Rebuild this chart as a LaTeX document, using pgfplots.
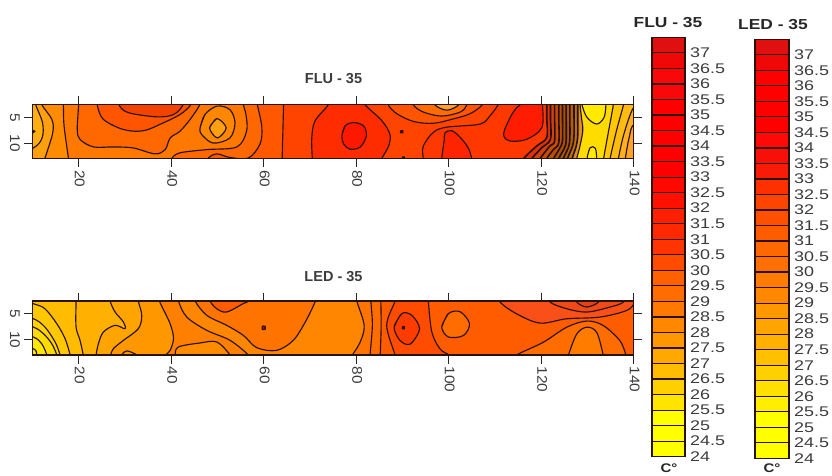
\documentclass[border=0pt]{standalone}
\usepackage{fontspec}
\usepackage{pgfplots}
\pgfplotsset{compat=1.18}
\setmainfont{Liberation Sans}
\newfontfamily\lgd[FakeStretch=1.28]{Liberation Sans}
\newfontfamily\tk[FakeStretch=1.1]{Liberation Sans}
\newfontfamily\hd[FakeStretch=1.2]{Liberation Sans}
\definecolor{cline}{HTML}{2A1208}
\definecolor{ctxt}{HTML}{3C3C3C}
\tikzset{hex/.code={\definecolor{tmp#1}{HTML}{#1}\tikzset{fill=tmp#1}}}
\pgfplotsset{
  region/.style={draw=cline,line width=1.15pt,smooth,tension=0.55},
  dense/.style={draw=cline!90!black,line width=1.6pt,smooth,tension=0.55},
  strip/.style={scale only axis,width=601.3pt,height=54pt,
    xmin=10,xmax=140,ymin=2.5,ymax=13,y dir=reverse,
    xtick={20,40,60,80,100,120,140},ytick={5,10},
    tick align=outside,tick pos=both,major tick length=8.5pt,
    xticklabel pos=bottom,yticklabel pos=left,
    axis on top,
    tick style={color=black!85,line width=1pt},
    axis line style={color=cline,line width=1.4pt},
    xticklabel style={rotate=-90,anchor=west,text=ctxt,inner sep=0pt,xshift=3pt,yshift=1pt,
       font=\tk\fontsize{14}{14}\selectfont,/pgf/number format/assume math mode=true},
    yticklabel style={rotate=-90,anchor=center,text=ctxt,inner sep=0pt,yshift=-9pt,
       font=\tk\fontsize{14}{14}\selectfont,/pgf/number format/assume math mode=true}},
  bar/.style={scale only axis,xmin=0,xmax=1,ymin=24,ymax=37.5,xtick=\empty,
    ytick={24,24.5,25,25.5,26,26.5,27,27.5,28,28.5,29,29.5,30,30.5,31,31.5,32,32.5,33,33.5,34,34.5,35,35.5,36,36.5,37},
    yticklabels={24,24.5,25,25.5,26,26.5,27,27.5,28,28.5,29,29.5,30,30.5,31,31.5,32,32.5,33,33.5,34,34.5,35,35.5,36,36.5,37},
    yticklabel pos=right,major tick length=0pt,axis on top,
    axis line style={color=cline,line width=1.2pt},
    yticklabel style={text=ctxt,anchor=west,inner sep=0pt,xshift=5pt,font=\lgd\fontsize{14}{14}\selectfont}}
}
\newcommand\R[2]{\addplot[region,hex=#1] coordinates {#2};}
\newcommand\D[2]{\addplot[dense,hex=#1] coordinates {#2};}
\newcommand\B[1]{\addplot[hex=#1,draw=none,sharp plot] coordinates {(5,1)(145,1)(145,14)(5,14)(5,1)};}
\newcommand\C[3]{\addplot[hex=#1,draw=cline,line width=1.2pt,sharp plot] coordinates {(0,#2)(1,#2)(1,#3)(0,#3)(0,#2)};}
\begin{document}
\begin{tikzpicture}[x=1pt,y=1pt]
\useasboundingbox (0,0) rectangle (832,475);

% ---------- FLU strip
\begin{axis}[strip,at={(32.4pt,316.5pt)},anchor=south west]
\B{FF7800}
\R{FF8C00}{(5,1)(16.7,1)(16.7,2.5)(16.85,6.7)(17.8,13)(17.9,14)(5,14)}
\R{FFA010}{(5,1)(12,1)(12,2.5)(14.2,5.4)(14.4,8)(12.7,13)(12.5,14)(5,14)}
\R{FFB010}{(5,1)(10.7,1)(10.7,2.5)(12.2,6.07)(12.1,9)(10.2,10.95)(5,12.5)}
\R{2A1208}{(9.9,7.5)(10.5,7.7)(9.9,8.1)(9.9,7.5)}
\R{FF6800}{(20,1)(20,2.5)(19.7,7.37)(20.3,9.3)(23.2,10.75)(27.5,10.75)(31.8,10.95)(36.5,12.1)(38.7,11.27)(39.8,9)(41.9,7.7)(44.1,5.4)(46.1,2.68)(46.3,1)}
\R{FF5400}{(24.05,1)(24.05,2.7)(25.35,5.4)(29.7,7.37)(34,7.6)(38.3,6.07)(41.9,4.45)(44.1,2.7)(44.3,1)}
\R{F04400}{(28.8,1)(28.8,2.7)(30.8,4.1)(36.9,4.9)(40.5,4.45)(42.5,2.7)(42.7,1)}
\R{FF8800}{(46.25,7.05)(47.3,4.45)(49.9,2.82)(52.7,3.5)(53.8,6.07)(52.7,9)(49.1,10)(46.6,8.34)(46.25,7.05)(47.3,4.45)}
\R{FFA010}{(48.3,7.05)(49.9,5.23)(51.9,7.05)(50,9)(48.3,7.05)(49.9,5.23)}
\R{FF6800}{(40.1,14)(40.1,13)(41.9,11.9)(47.7,11.27)(54.2,10.75)(56.3,7.7)(56.2,4.6)(55.6,2.5)(55.6,1)(145,1)(145,14)}
\R{FF5800}{(48.05,14)(48.05,12.9)(49.9,12.1)(52.7,12.8)(56.7,12.9)(59.2,10.2)(59.6,6.9)(58.65,2.5)(58.65,1)(145,1)(145,14)}
\R{FF4400}{(64,14)(64,13)(64.3,2.5)(64.3,1)(145,1)(145,14)}
\R{FF2C00}{(74,1)(74,2.5)(71.1,5.7)(70.4,9)(70.5,13)(70.5,14)(85.55,14)(85.55,13)(87,10.6)(87.3,8.3)(85.5,5.6)(81.9,2.5)(81.9,1)}
\R{FF1800}{(76.9,8.6)(77.6,6.66)(79.4,6)(81.6,6.66)(82.2,8.6)(80.9,10.75)(78.7,11.2)(77.3,10.2)(76.9,8.6)(77.6,6.66)}
\R{2A1208}{(89.6,7.6)(90.1,7.6)(90.1,8)(89.6,8)(89.6,7.6)}
\R{2A1208}{(90,12.7)(90.4,12.7)(90.4,13.2)(90,13.2)(90,12.7)}
\R{FF3800}{(94.5,14)(94.5,13)(94.5,10.6)(96.7,7.9)(99.6,6.9)(106.8,6.3)(109,4.6)(110.7,2.5)(111,1)(145,1)(145,14)}
\R{FF5400}{(86.96,1)(86.96,2.6)(88.8,4.3)(92.4,5.8)(96.7,6.15)(101,5.3)(104.6,4.3)(107.2,2.6)(107.2,1)}
\R{FF6C00}{(92.4,1)(92.4,2.6)(94.5,3.96)(98.5,4.75)(102.5,3.96)(103.9,2.6)(103.9,1)}
\R{FFA030}{(97.05,1)(97.05,2.6)(99.6,3.6)(102.1,2.6)(102.1,1)}
\R{FF2400}{(98.5,14)(98.5,12.9)(99,9.6)(99.2,8)(100.7,7.6)(102.5,8.9)(104.2,10.9)(104.95,12.9)(104.95,14)}
\R{FF1C00}{(115.5,1)(115.5,2.5)(114.7,3.1)(113.3,5)(111.86,8.3)(113.3,9.6)(116.9,9.25)(120.14,7)(120.3,2.5)(120.3,1)}
\D{E03010}{(116.2,14)(116.2,13)(119.06,10.55)(121.2,8.9)(121.2,5)(121.2,2.5)(121.2,1)(145,1)(145,14)}
\D{D04010}{(118,14)(118,13)(120.14,10.9)(122,9.25)(122,5)(122,2.5)(122,1)(145,1)(145,14)}
\D{C84C08}{(119.8,14)(119.8,13)(121.9,10.55)(122.9,9.6)(122.9,5)(122.9,2.5)(122.9,1)(145,1)(145,14)}
\D{B85008}{(121.2,14)(121.2,13)(122.7,11.2)(123.8,9.9)(123.8,5)(123.8,2.5)(123.8,1)(145,1)(145,14)}
\D{A85008}{(122.7,14)(122.7,13)(124,11)(124.6,9.5)(124.6,5)(124.6,2.5)(124.6,1)(145,1)(145,14)}
\D{A85808}{(123.8,14)(123.8,13)(125,11)(125.4,9.5)(125.4,5)(125.4,2.5)(125.4,1)(145,1)(145,14)}
\D{B06008}{(124.8,14)(124.8,13)(125.9,10.8)(126.2,9)(126.2,5)(126.2,2.5)(126.2,1)(145,1)(145,14)}
\D{C07010}{(125.7,14)(125.7,13)(126.8,10.5)(127.1,8.5)(127.1,5)(127.1,2.5)(127.1,1)(145,1)(145,14)}
\D{D89030}{(126.7,14)(126.7,13)(127.6,10.5)(127.9,8.5)(127.9,5)(127.9,2.5)(127.9,1)(145,1)(145,14)}
\R{FFDC00}{(127.7,14)(127.7,13)(128.4,10.5)(129,7.5)(128.7,5)(128.4,2.5)(128.4,1)(145,1)(145,14)}
\R{FFEA00}{(128.8,1)(128.8,2.5)(129.9,5)(132,6.3)(133.6,5)(134,2.5)(134,1)}
\R{FFEA00}{(129.9,14)(129.9,13)(130.6,10.9)(131.7,11)(132,13)(132,14)}
\R{FFC800}{(133.5,14)(133.5,13)(134.6,7.5)(135.6,2.5)(135.6,1)(145,1)(145,14)}
\R{FFBC10}{(134.9,14)(134.9,13)(136.3,7.5)(137.8,2.5)(137.8,1)(145,1)(145,14)}
\R{FFB020}{(136.7,14)(136.7,13)(137.8,8.5)(139.6,3.7)(141,2.5)(145,1)(145,14)}
\R{FFA428}{(138.2,14)(138.2,13)(139,9)(140.2,6.2)(145,5)(145,14)}
\end{axis}

% ---------- LED strip
\begin{axis}[strip,at={(32.4pt,120pt)},anchor=south west]
\B{FF5C00}
\R{FF4C00}{(5,1)(95.6,1)(95.6,2.5)(96.36,8.55)(98.16,11.84)(100.1,13)(101,14)(5,14)}
\R{FF5C00}{(5,1)(88.4,1)(88.4,2.5)(86.6,7.24)(88.4,13)(88.4,14)(5,14)}
\R{FF6C00}{(5,1)(85.33,1)(85.33,2.5)(85.4,7.5)(85.2,13)(85.2,14)(5,14)}
\R{FF7400}{(5,1)(83.17,1)(83.17,2.5)(83.5,7.2)(83,13)(83,14)(5,14)}
\R{FF8600}{(5,1)(80.14,1)(80.14,2.5)(81.73,7.24)(80.86,10.5)(79.2,13)(79,14)(5,14)}
\R{FF7400}{(45.17,1)(45.17,2.5)(47.7,5.29)(52,7.23)(55.6,9.18)(58.5,11.57)(62.8,12.1)(66.4,10.15)(69,6.58)(71.1,2.7)(71.5,1)}
\R{FF5C00}{(48.4,1)(48.4,2.5)(49.86,4)(52,4.64)(55.6,3)(56.7,2.5)(56.9,1)}
\R{A01800}{(59.7,7.4)(60.3,7.4)(60.3,8)(59.7,8)(59.7,7.4)}
\R{FF8000}{(5,1)(41.57,1)(41.57,2.5)(43.37,5.61)(47.7,8.2)(52.74,10.15)(56.7,13)(57,14)(5,14)}
\R{FF8C00}{(40.85,14)(40.85,13)(41.57,11.44)(46.25,10.66)(49.86,10.47)(52.74,13)(52.9,14)}
\R{FF9800}{(5,1)(37.46,1)(37.46,2.5)(39.77,6.9)(40.5,9.82)(39.77,12.1)(38.83,13)(38.6,14)(5,14)}
\R{FFA400}{(5,1)(32.9,1)(32.9,2.5)(33.64,5.29)(32.9,7.88)(29.68,10.15)(27.5,11.77)(26.94,13)(26.8,14)(5,14)}
\R{FF9800}{(29.3,14)(29.3,13)(30.4,12.2)(32.56,13)(32.8,14)}
\R{FFB000}{(5,1)(26.8,1)(26.8,2.5)(27.87,4.64)(29.68,6.58)(30,7.88)(27.87,7.23)(25.35,8.53)(24.27,10.8)(23.77,13)(23.7,14)(5,14)}
\R{FFBC00}{(5,1)(19.44,1)(19.44,2.5)(19.44,7.55)(20.3,10.15)(21,13)(21.2,14)(5,14)}
\R{FFC800}{(5,1.5)(10.2,3.02)(12.7,4)(15.26,6.9)(17.06,9.82)(18.14,12.94)(18.3,14)(5,14)}
\R{FFD400}{(5,4.5)(10.2,5.93)(12.7,7.55)(14.9,10.47)(15.98,12.94)(16.2,14)(5,14)}
\R{FFDC00}{(5,6)(10.2,7.55)(12.38,8.85)(14.18,10.8)(15.26,12.94)(15.4,14)(5,14)}
\R{FFE800}{(5,8)(10.2,9.5)(12,10.8)(13.1,12.94)(13.2,14)(5,14)}
\R{F0EC00}{(5,10.5)(10.2,11.77)(10.94,12.94)(11,14)(5,14)}
\R{FF3C00}{(88.2,7.57)(89.87,4.93)(92,5.26)(93.7,7.9)(91.7,10.86)(89.5,10.2)(88.2,7.57)(89.87,4.93)}
\R{2A1208}{(90,7.5)(90.4,7.5)(90.4,7.9)(90,7.9)(90,7.5)}
\R{FF6C00}{(98.5,7.57)(99.96,4.93)(102.5,4.6)(104.5,6.9)(103.2,9.2)(99.96,9.5)(98.5,7.57)(99.96,4.93)}
\R{F85018}{(111.1,1)(111.1,2.7)(114.7,5)(119.75,6.8)(125.5,5.96)(132.7,5.63)(138.5,4.33)(140.3,2.7)(141,1)}
\R{F04A18}{(121.9,1)(121.9,2.7)(125.5,4)(129.85,4.65)(134.9,3.67)(137.8,2.7)(138,1)}
\R{E84018}{(127.7,1)(127.7,2.7)(129.85,3.67)(132.4,2.7)(132.6,1)}
\R{FF6C00}{(114.7,14)(114.7,13)(120.5,10.5)(125.5,7.6)(129.85,6.4)(133.4,7.26)(137,10.2)(138.3,13)(138.3,14)}
\R{FF7C00}{(125.9,14)(125.9,13)(127.7,8.9)(129.85,7.6)(132,8.6)(133.4,13)(133.4,14)}
\end{axis}

% ---------- FLU scale
\begin{axis}[bar,at={(652pt,18.3pt)},anchor=south west,width=33pt,height=419.4pt]
\C{FFFF00}{24}{24.5}\C{FFFF00}{24.5}{25}\C{FFFF00}{25}{25.5}\C{FFE400}{25.5}{26}
\C{FFD000}{26}{26.5}\C{FFBC00}{26.5}{27}\C{FFA800}{27}{27.5}\C{FF9800}{27.5}{28}
\C{FF8800}{28}{28.5}\C{FF7800}{28.5}{29}\C{FF6C00}{29}{29.5}\C{FF6000}{29.5}{30}
\C{FF4C00}{30}{30.5}\C{FF3400}{30.5}{31}\C{FF2800}{31}{31.5}\C{FF2000}{31.5}{32}
\C{FF1000}{32}{32.5}\C{FF0800}{32.5}{33}\C{FF0000}{33}{33.5}\C{FF0000}{33.5}{34}
\C{FF0000}{34}{34.5}\C{FF0000}{34.5}{35}\C{FF0000}{35}{35.5}\C{F80808}{35.5}{36}
\C{F80808}{36}{36.5}\C{F00808}{36.5}{37}\C{E01010}{37}{37.5}
\end{axis}

% ---------- LED scale
\begin{axis}[bar,at={(755pt,16.7pt)},anchor=south west,width=34pt,height=419pt]
\C{FFFF00}{24}{24.5}\C{FFFF00}{24.5}{25}\C{FFFF00}{25}{25.5}\C{FFEE00}{25.5}{26}
\C{FFE000}{26}{26.5}\C{FFD000}{26.5}{27}\C{FFC000}{27}{27.5}\C{FFB000}{27.5}{28}
\C{FFA400}{28}{28.5}\C{FF9800}{28.5}{29}\C{FF8800}{29}{29.5}\C{FF7C00}{29.5}{30}
\C{FF7000}{30}{30.5}\C{FF6800}{30.5}{31}\C{FF5C00}{31}{31.5}\C{FF5000}{31.5}{32}
\C{FF4400}{32}{32.5}\C{FF3000}{32.5}{33}\C{F81C08}{33}{33.5}\C{F81008}{33.5}{34}
\C{FF0808}{34}{34.5}\C{FF0000}{34.5}{35}\C{FF0000}{35}{35.5}\C{FF0000}{35.5}{36}
\C{FF0000}{36}{36.5}\C{F00808}{36.5}{37}\C{E01010}{37}{37.5}
\end{axis}

% ---------- titles
\node[font=\bfseries\fontsize{14.5}{15}\selectfont,text=ctxt] at (333.5,396) {FLU - 35};
\node[font=\bfseries\fontsize{14.5}{15}\selectfont,text=ctxt] at (333.5,198.3) {LED - 35};
\node[font=\hd\bfseries\fontsize{14.5}{15}\selectfont,text=black!85] at (668,452) {FLU - 35};
\node[font=\hd\bfseries\fontsize{14.5}{15}\selectfont,text=black!85] at (773,450) {LED - 35};
\node[font=\hd\bfseries\fontsize{12.5}{13}\selectfont,text=black!85] at (669,7) {C°};
\node[font=\hd\bfseries\fontsize{12.5}{13}\selectfont,text=black!85] at (772,7) {C°};
\end{tikzpicture}
\end{document}
